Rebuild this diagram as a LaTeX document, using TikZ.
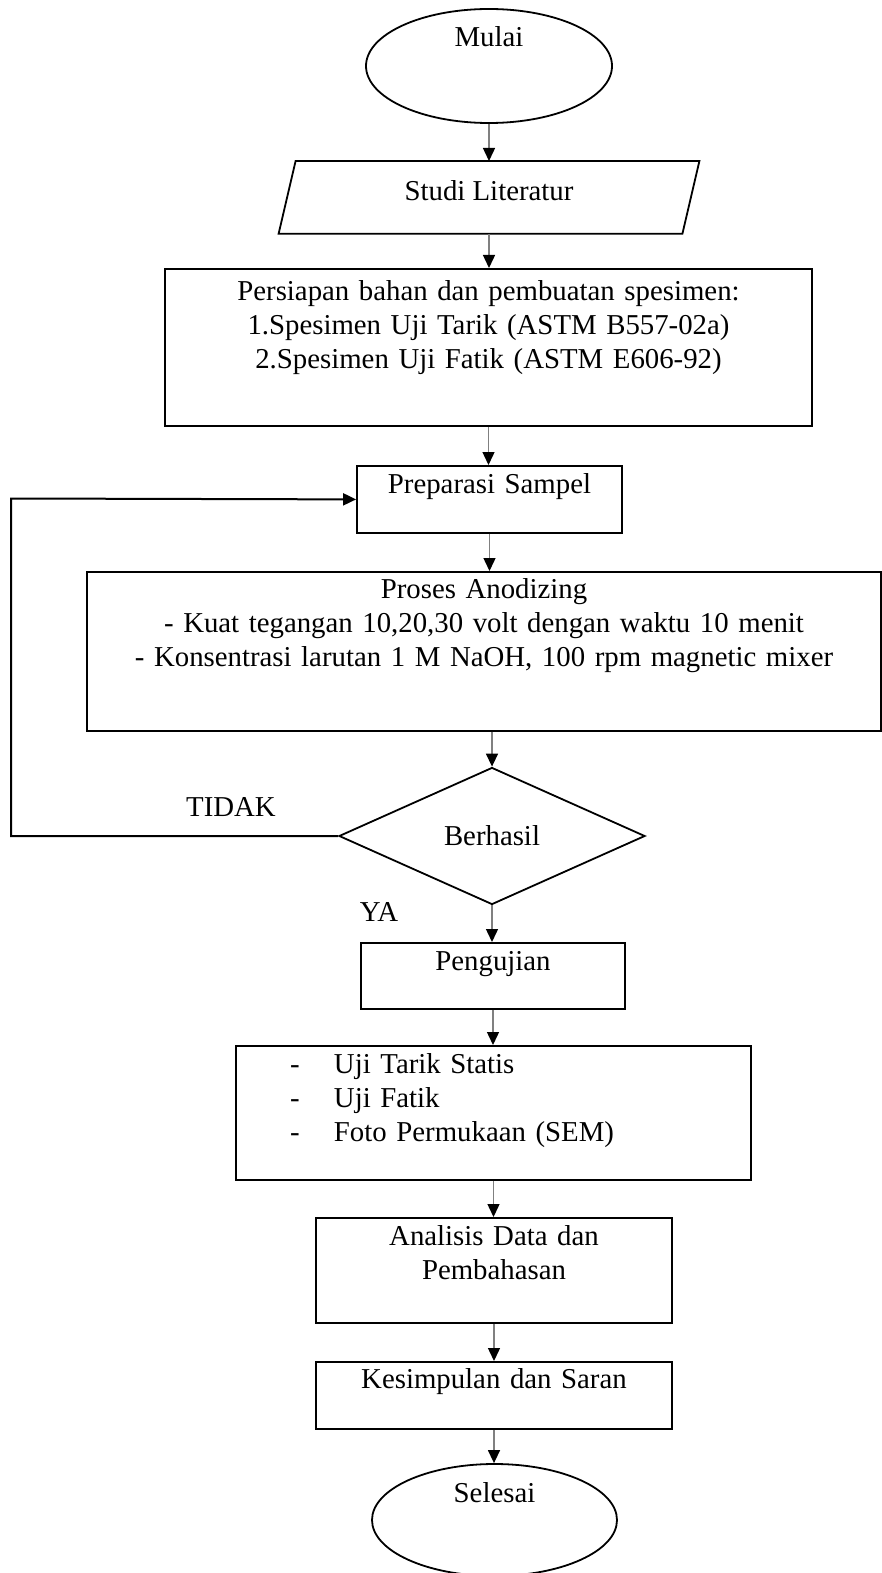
\documentclass[tikz,border=0pt]{standalone}
\usepackage{fontspec}
\setmainfont{Liberation Serif}
\usetikzlibrary{arrows.meta,shapes.geometric}

\begin{document}
\begin{tikzpicture}[x=0.5pt,y=-0.5pt,font=\fontsize{14.4}{17}\selectfont,
 procbox/.style={draw,line width=0.9pt,rectangle,inner sep=0pt,anchor=north,align=center,text height=14pt},
 oval/.style={draw,line width=0.9pt,ellipse,inner sep=0pt,text height=10pt},
 flow/.style={draw=gray,line width=0.7pt,-{Triangle[length=6.5pt,width=6pt,black]}},
 backline/.style={line width=1pt,-{Triangle[length=6.5pt,width=6pt]}}]
\useasboundingbox (0,0) rectangle (882,1573);
\node[oval,minimum width=123pt,minimum height=57pt,text depth=29pt] (mulai) at (489,66) {Mulai};
\node[anchor=north,inner sep=0pt,minimum width=201.5pt,text height=19.5pt,text depth=16.5pt] (lit) at (489,161) {Studi Literatur};
\draw[line width=0.9pt] ([xshift=-4.25pt]lit.south west) -- ([xshift=-4.25pt]lit.south east) -- ([xshift=4.25pt]lit.north east) -- ([xshift=4.25pt]lit.north west) -- cycle;
\node[procbox,text width=323.5pt,text height=16pt,text depth=62.5pt] (pers) at (488.5,268) {Persiapan bahan dan pembuatan spesimen:\\1.Spesimen Uji Tarik (ASTM B557-02a)\\2.Spesimen Uji Fatik (ASTM E606-92)};
\node[procbox,text width=132.5pt,text depth=19.5pt] (prep) at (489.5,465) {Preparasi Sampel};
\node[procbox,text width=397pt,text height=13.5pt,text depth=66pt] (pros) at (484,571) {Proses Anodizing\\- Kuat tegangan 10,20,30 volt dengan waktu 10 menit\\- Konsentrasi larutan 1 M NaOH, 100 rpm magnetic mixer};
\node[draw,line width=0.9pt,diamond,inner sep=0pt,minimum width=153pt,minimum height=68.5pt] (dec) at (492,836) {Berhasil};
\node[procbox,text width=132pt,text depth=19pt] (uji) at (493,942) {Pengujian};
\node[procbox,text width=257.5pt,align=left,text depth=53pt] (tests) at (493.5,1045) {\hspace*{27pt}\makebox[22pt][l]{-}Uji Tarik Statis\\\hspace*{27pt}\makebox[22pt][l]{-}Uji Fatik\\\hspace*{27pt}\makebox[22pt][l]{-}Foto Permukaan (SEM)};
\node[procbox,text width=178pt,text depth=38.5pt] (anl) at (494,1217) {Analisis Data dan\\Pembahasan};
\node[procbox,text width=178pt,text height=13.5pt,text depth=20pt] (kes) at (494,1361) {Kesimpulan dan Saran};
\node[oval,minimum width=122.5pt,minimum height=56pt,text depth=28pt] (selesai) at (494.5,1520) {Selesai};
\node (tidak) at (231,807.5) {TIDAK};
\node (ya) at (379,911.5) {YA};
\coordinate (lft) at (11,498.5);
\draw[flow] (mulai.south) -- (mulai.south |- lit.north);
\draw[flow] (lit.south) -- (lit.south |- pers.north);
\draw[flow] (pers.south) -- (pers.south |- prep.north);
\draw[flow] (prep.south) -- (prep.south |- pros.north);
\draw[flow] (dec.north |- pros.south) -- (dec.north);
\draw[flow] (dec.south) -- (dec.south |- uji.north);
\draw[flow] (uji.south) -- (uji.south |- tests.north);
\draw[flow] (tests.south) -- (tests.south |- anl.north);
\draw[flow] (anl.south) -- (anl.south |- kes.north);
\draw[flow] (kes.south) -- (kes.south |- selesai.north);
\draw[backline] (dec.west) -| (lft) -- (prep.west);
\end{tikzpicture}
\end{document}
